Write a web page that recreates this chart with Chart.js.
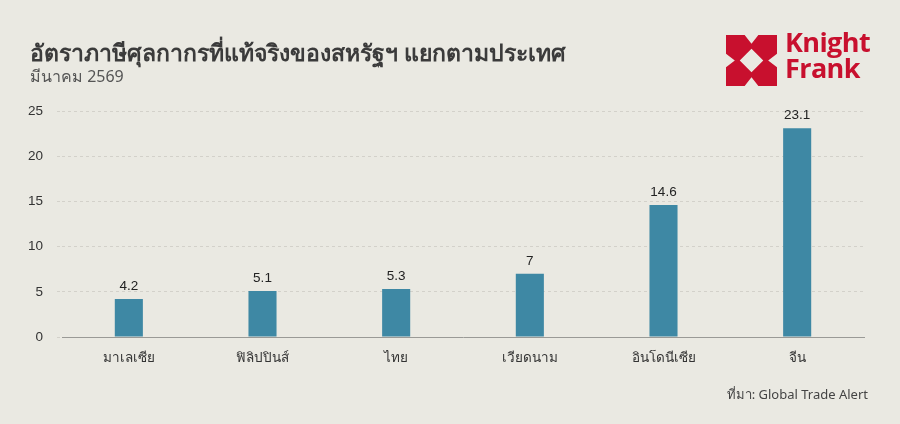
<!DOCTYPE html>
<html>
<head>
<meta charset="utf-8">
<script src="https://cdn.jsdelivr.net/npm/chart.js@4.4.1/dist/chart.umd.min.js"></script>
<style>
  html,body{margin:0;padding:0;background:#eae9e2;}
  #wrap{position:relative;width:900px;height:424px;overflow:hidden;background:#eae9e2;font-family:"Noto Sans","DejaVu Sans",sans-serif;}
  #title{position:absolute;left:30px;top:35px;font-size:23px;font-weight:bold;color:#3b3b3b;white-space:nowrap;}
  #sub{position:absolute;left:30px;top:64px;font-size:16px;color:#555;white-space:nowrap;}
  #src{position:absolute;right:32px;top:384px;font-size:13px;color:#444;white-space:nowrap;}
  #logo{position:absolute;left:725px;top:35px;}
  #kf{position:absolute;left:785px;top:29px;font-family:"Open Sans","Noto Sans",sans-serif;font-weight:700;color:#c8102e;font-size:27px;line-height:26px;letter-spacing:-0.6px;}
  canvas{position:absolute;left:0;top:0;}
</style>
</head>
<body>
<div id="wrap">
  <canvas id="c" width="900" height="424"></canvas>
  <div id="title">อัตราภาษีศุลกากรที่แท้จริงของสหรัฐฯ แยกตามประเทศ</div>
  <div id="sub">มีนาคม 2569</div>
  <svg id="logo" width="53" height="51" viewBox="0 0 52 52">
    <path fill="#c8102e" fill-rule="evenodd" d="M0 0H52V52H0Z M19 0L33 0L26 9Z M26 14L38 26L26 38L14 26Z M0 19L9 26L0 33Z M52 19L43 26L52 33Z M19 52L33 52L26 43Z"/>
  </svg>
  <div id="kf">Knight<br>Frank</div>
  <div id="src">ที่มา: Global Trade Alert</div>
</div>
<script>
const categories = ["มาเลเซีย","ฟิลิปปินส์","ไทย","เวียดนาม","อินโดนีเซีย","จีน"];
const tariffRates = [4.2, 5.1, 5.3, 7, 14.6, 23.1];
const yTicks = [0, 5, 10, 15, 20, 25];

const valueLabels = {
  id: 'valueLabels',
  afterDatasetsDraw(chart) {
    const ctx = chart.ctx;
    const meta = chart.getDatasetMeta(0);
    ctx.save();
    ctx.font = '13.5px "Liberation Sans", Arial, sans-serif';
    ctx.fillStyle = '#222';
    ctx.textAlign = 'center';
    ctx.textBaseline = 'bottom';
    meta.data.forEach((bar, i) => {
      ctx.fillText(String(chart.data.datasets[0].data[i]), bar.x, bar.y - 6);
    });
    ctx.restore();
  }
};

new Chart(document.getElementById('c'), {
  type: 'bar',
  data: {
    labels: categories,
    datasets: [{
      data: tariffRates,
      backgroundColor: '#3e88a4',
      barPercentage: 0.21,
      categoryPercentage: 1.0
    }]
  },
  options: {
    responsive: false,
    animation: false,
    layout: { padding: { left: 0, right: 36, top: 111, bottom: 57 } },
    plugins: { legend: { display: false }, tooltip: { enabled: false } },
    scales: {
      x: {
        afterFit(s) { s.height = 30; },
        grid: { display: false },
        border: { display: true, color: '#9a9a96', width: 1 },
        ticks: { color: '#333', font: { size: 13.5, family: '"Noto Sans", sans-serif' }, padding: 5 }
      },
      y: {
        min: 0, max: 25,
        afterFit(s) { s.width = 62; },
        afterBuildTicks(s) { s.ticks = yTicks.map(v => ({ value: v })); },
        border: { display: false, dash: [3, 3] },
        grid: { color: '#d3d1ca', tickLength: 5, tickColor: '#d3d1ca', tickBorderDash: [3, 3] },
        ticks: { color: '#333', font: { size: 13.5, family: '"Liberation Sans", Arial, sans-serif' }, padding: 14 }
      }
    }
  },
  plugins: [valueLabels]
});
</script>
</body>
</html>
